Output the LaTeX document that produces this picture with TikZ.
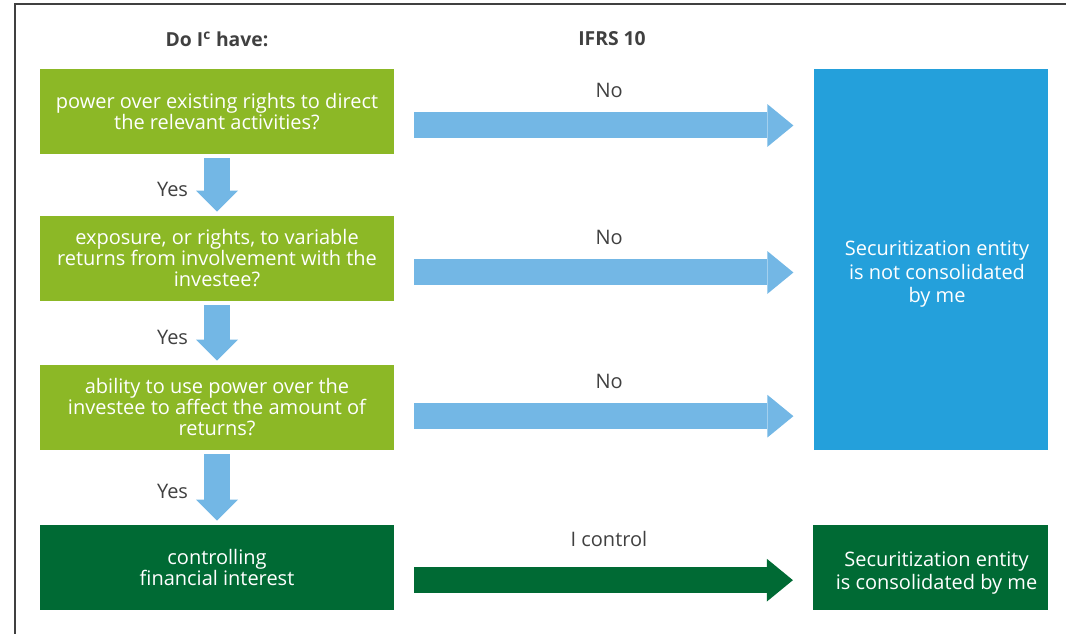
\documentclass[tikz,border=0pt]{standalone}
\usepackage{fontspec}
\setmainfont{Open Sans}
\usetikzlibrary{arrows.meta}
\usetikzlibrary{positioning}

\definecolor{lgreen}{RGB}{140,184,38}
\definecolor{dgreen}{RGB}{0,106,52}
\definecolor{sblue}{RGB}{36,160,219}
\definecolor{lblue}{RGB}{115,183,229}
\definecolor{txtgrey}{RGB}{64,64,64}

\begin{document}
\begin{tikzpicture}[x=0.75pt,y=0.75pt,yscale=-1,xscale=1,
  qbox/.style={fill=lgreen, text=white, minimum width=265.5pt, minimum height=64pt, inner sep=0pt, align=center, font=\fontsize{15}{15.75}\selectfont},
  obox/.style={minimum width=176pt, inner sep=0pt, text=white, align=center, font=\fontsize{15}{17.5}\selectfont},
  head/.style={text=txtgrey, font=\fontsize{14.5}{17}\selectfont\bfseries},
  lbl/.style={text=txtgrey, inner sep=0pt, font=\fontsize{15}{16}\selectfont},
  hbar/.style={draw=lblue, line width=19.5pt, -{Triangle[length=19.5pt,width=32pt,line width=0pt]}, shorten <=15pt, shorten >=15pt},
  vbar/.style={draw=lblue, line width=19.5pt, -{Triangle[length=15.75pt,width=31.5pt,line width=0pt]}, shorten <=3pt, shorten >=3pt}
]
\useasboundingbox (0,0) rectangle (1066,634);

%Frame
\draw [line width=1.5pt, black!75]  (15,634) -- (15,4) -- (1066,4) ;

% Headings
\node[head] (hdo) at (217,39) {Do I\textsuperscript{c} have:};
\node[head] (hifrs) at (612,39) {IFRS 10};

% Question boxes
\node[qbox] (q1) at (217,111.5) {power over existing rights to direct\\the relevant activities?};
\node[qbox] (q2) at (217,258.5) {exposure, or rights, to variable\\returns from involvement with the\\investee?};
\node[qbox] (q3) at (217,407.5) {ability to use power over the\\investee to affect the amount of\\returns?};
\node[qbox, fill=dgreen] (q4) at (217,567.5) {controlling\\financial interest};

% Outcome boxes
\node[obox, fill=sblue, minimum height=286pt] (nc) at (931,259.5) {};
\node[obox] (nctext) at ([xshift=4.5pt,yshift=11pt]nc.center) {Securitization entity\\is not consolidated\\by me};
\node[obox, fill=dgreen, minimum height=64pt] (co) at (930.5,567.5) {};
\node[obox] (cotext) at ([xshift=4.5pt,yshift=4pt]co.center) {Securitization entity\\is consolidated by me};

% Yes arrows
\draw [vbar] (q1.south) -- node[lbl, left=12pt, yshift=-3pt] {Yes} (q2.north);
\draw [vbar] (q2.south) -- node[lbl, left=12pt, yshift=-3pt] {Yes} (q3.north);
\draw [vbar] (q3.south) -- node[lbl, left=12pt, yshift=-3pt] {Yes} (q4.north);

% No arrows
\draw [hbar] ([yshift=10.5pt]q1.east) -- node[lbl, above=11pt, xshift=4pt] {No} ([yshift=10.5pt]q1.east -| nc.west);
\draw [hbar] ([yshift=10.5pt]q2.east) -- node[lbl, above=11pt, xshift=4pt] {No} ([yshift=10.5pt]q2.east -| nc.west);
\draw [hbar] ([yshift=6.5pt]q3.east) -- node[lbl, above=11pt, xshift=4pt] {No} ([yshift=6.5pt]q3.east -| nc.west);
\draw [hbar, draw=dgreen] ([yshift=9.5pt]q4.east) -- node[lbl, above=15.5pt, xshift=4pt] {I control} ([yshift=9.5pt]q4.east -| co.west);

\end{tikzpicture}
\end{document}
